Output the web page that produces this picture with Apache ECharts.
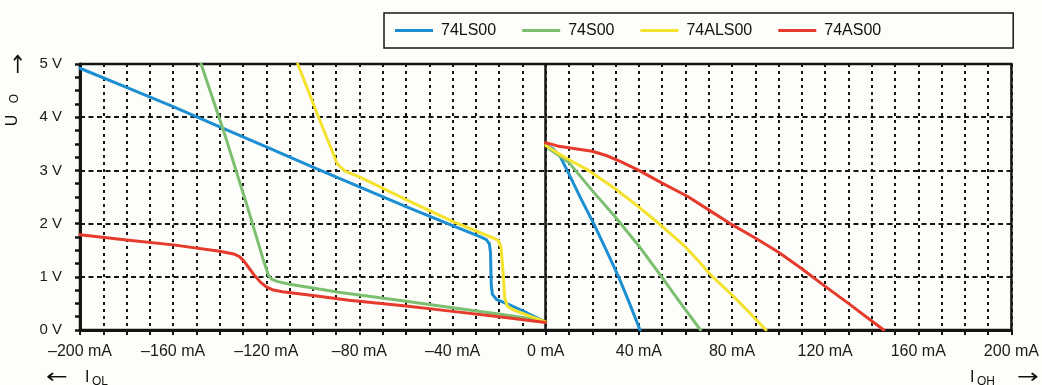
<!DOCTYPE html>
<html>
<head>
<meta charset="utf-8">
<title>TTL output characteristics</title>
<script src="https://cdn.jsdelivr.net/npm/echarts@6/dist/echarts.min.js"></script>
<style>
  html, body { margin: 0; padding: 0; background: #fdfdf9; }
  #chart { width: 1042px; height: 385px; }
</style>
</head>
<body>
<div id="chart"></div>
<script>
// Output voltage U_O [V] versus output current [mA] for four TTL NAND families.
// Negative currents: sink branch (I_OL), positive currents: source branch (I_OH).

const seriesNames = ['74LS00', '74S00', '74ALS00', '74AS00'];
const seriesColors = ['#1b8fd2', '#7cbf70', '#f5e22e', '#e53a2c'];

const xTickLabels = ['–200 mA', '–160 mA', '–120 mA', '–80 mA', '–40 mA', '0 mA',
                     '40 mA', '80 mA', '120 mA', '160 mA', '200 mA'];
const yTickLabels = ['0 V', '1 V', '2 V', '3 V', '4 V', '5 V'];

// [current mA, voltage V]
const ls00Sink = [[-200, 4.92], [-180, 4.56], [-160, 4.2], [-140, 3.82], [-120, 3.44],
  [-100, 3.06], [-80, 2.69], [-60, 2.32], [-40, 1.96], [-28, 1.75], [-25.5, 1.70],
  [-24.2, 1.62], [-23.7, 1.45], [-23.4, 0.85], [-22.9, 0.67], [-21, 0.57], [-16, 0.48],
  [-8, 0.32], [0, 0.15]];
const ls00Source = [[0, 3.47], [3, 3.41], [6, 3.28], [10, 2.93], [15, 2.48], [20.6, 2.0],
  [26, 1.5], [31.3, 1.0], [36, 0.5], [40.5, 0]];

const s00Sink = [[-148, 5.0], [-138, 3.7], [-128, 2.3], [-121.5, 1.35], [-119, 1.02],
  [-117.5, 0.95], [-115, 0.91], [-110, 0.86], [-100, 0.79], [-89, 0.71], [-60, 0.54],
  [-40, 0.42], [-20, 0.3], [0, 0.17]];
const s00Source = [[0, 3.45], [5, 3.3], [9.7, 3.16], [20, 2.62], [29.8, 2.13], [40, 1.58],
  [49.8, 1.0], [58, 0.5], [66.5, 0]];

const als00Sink = [[-106.5, 5.0], [-98, 4.05], [-89.5, 3.12], [-86, 2.98], [-80, 2.88],
  [-60, 2.45], [-40, 2.04], [-22, 1.72], [-20.3, 1.68], [-19.2, 1.55], [-18.5, 1.2],
  [-17.6, 0.6], [-16.5, 0.45], [-14.5, 0.39], [-8, 0.28], [0, 0.15]];
const als00Source = [[0, 3.47], [5, 3.33], [10, 3.2], [18.4, 3.0], [30, 2.65], [39.8, 2.32],
  [50, 1.95], [59.8, 1.57], [66, 1.28], [71.2, 1.02], [80, 0.66], [87, 0.35], [94.6, 0]];

const as00Sink = [[-200, 1.79], [-180, 1.69], [-160, 1.6], [-140, 1.48], [-134, 1.43],
  [-131.5, 1.38], [-129.5, 1.29], [-127.5, 1.17], [-125.5, 1.05], [-122.5, 0.9], [-120, 0.81],
  [-117, 0.75], [-113, 0.72], [-100, 0.65], [-84.5, 0.56], [-60, 0.45], [-40, 0.35],
  [-20, 0.25], [0, 0.14]];
const as00Source = [[0, 3.52], [5, 3.46], [12, 3.41], [20, 3.36], [26, 3.28], [32, 3.17],
  [40, 3.0], [50, 2.76], [61, 2.51], [71, 2.23], [80, 1.98], [90, 1.73], [100, 1.46],
  [110, 1.15], [120, 0.82], [130, 0.5], [140, 0.17], [145.2, 0]];

const branches = [
  [ls00Sink, ls00Source],
  [s00Sink, s00Source],
  [als00Sink, als00Source],
  [as00Sink, as00Source]
];

const X_MIN = -200, X_MAX = 200, X_STEP = 40;
const FONT = '"Liberation Sans", Arial, Helvetica, sans-serif';
const ARROW_FONT = '"DejaVu Sans", sans-serif';
const INK = '#151515';

const series = [];
branches.forEach((pair, i) => {
  pair.forEach((data, j) => {
    const s = {
      name: seriesNames[i],
      type: 'line',
      data: data,
      symbol: 'none',
      showSymbol: false,
      color: seriesColors[i],
      lineStyle: { width: 3, color: seriesColors[i], join: 'round', cap: 'round' },
      z: 3 + i
    };
    if (i === 0 && j === 0) {
      // solid vertical line at zero current separating sink and source
      s.markLine = {
        silent: true,
        symbol: 'none',
        label: { show: false },
        lineStyle: { type: 'solid', color: INK, width: 2.5 },
        data: [{ xAxis: 0 }]
      };
    }
    series.push(s);
  });
});

const chart = echarts.init(document.getElementById('chart'), null, { renderer: 'canvas' });

const dotted = { type: [3, 4], color: INK, width: 2 };

chart.setOption({
  animation: false,
  backgroundColor: '#fdfdf9',
  textStyle: { fontFamily: FONT },
  grid: {
    left: 80, right: 29, top: 64, bottom: 55,
    show: true, borderColor: INK, borderWidth: 2.5, backgroundColor: 'transparent'
  },
  legend: {
    data: seriesNames,
    left: 384, top: 13,
    orient: 'horizontal',
    icon: 'rect',
    itemWidth: 38, itemHeight: 3, itemGap: 26,
    padding: [9, 132, 9, 11],
    borderColor: INK, borderWidth: 1.5,
    textStyle: { fontFamily: FONT, fontSize: 16, color: '#111', padding: [0, 0, 0, 3], lineHeight: 17 },
    selectedMode: false
  },
  xAxis: {
    type: 'value',
    min: X_MIN, max: X_MAX, interval: X_STEP,
    axisLine: { show: true, onZero: false, lineStyle: { color: INK, width: 3 } },
    axisTick: { show: true, length: 5, lineStyle: { color: INK, width: 2 } },
    minorTick: { show: true, splitNumber: 4, length: 5, lineStyle: { color: INK, width: 2 } },
    splitLine: { show: true, lineStyle: dotted },
    minorSplitLine: { show: true, lineStyle: dotted },
    axisLabel: {
      fontFamily: FONT, fontSize: 16, color: '#1a1a1a', margin: 14,
      showMinLabel: true, showMaxLabel: true,
      formatter: v => xTickLabels[Math.round((v - X_MIN) / X_STEP)]
    }
  },
  yAxis: {
    type: 'value',
    min: 0, max: 5, interval: 1,
    axisLine: { show: true, onZero: false, lineStyle: { color: INK, width: 3 } },
    axisTick: { show: true, length: 5, lineStyle: { color: INK, width: 2.5 } },
    minorTick: { show: true, splitNumber: 4, length: 5, lineStyle: { color: INK, width: 2.5 } },
    splitLine: { show: true, lineStyle: { type: [5, 3.5], color: INK, width: 2 } },
    axisLabel: {
      fontFamily: FONT, fontSize: 15, color: '#1a1a1a', margin: 18,
      formatter: v => yTickLabels[Math.round(v)]
    }
  },
  graphic: [
    // vertical axis title U_O with arrow
    { type: 'text', x: 13, y: 120.5, rotation: Math.PI / 2,
      style: { text: 'U', font: '16px ' + FONT, fill: '#111', align: 'center', verticalAlign: 'middle' } },
    { type: 'text', x: 14.5, y: 98.5, rotation: Math.PI / 2,
      style: { text: 'O', font: '12px ' + FONT, fill: '#111', align: 'center', verticalAlign: 'middle' } },
    { type: 'text', x: 18, y: 66, scaleY: 1.25,
      style: { text: '↑', font: '20px ' + ARROW_FONT, fill: '#111', align: 'center', verticalAlign: 'middle' } },
    // sink current label
    { type: 'text', x: 57, y: 378, scaleX: 1.3,
      style: { text: '←', font: '20px ' + ARROW_FONT, fill: '#111', align: 'center', verticalAlign: 'middle' } },
    { type: 'text', x: 85, y: 378,
      style: { text: 'I', font: '16px ' + FONT, fill: '#111', align: 'left', verticalAlign: 'middle' } },
    { type: 'text', x: 92, y: 382,
      style: { text: 'OL', font: '12px ' + FONT, fill: '#111', align: 'left', verticalAlign: 'middle' } },
    // source current label
    { type: 'text', x: 970, y: 378,
      style: { text: 'I', font: '16px ' + FONT, fill: '#111', align: 'left', verticalAlign: 'middle' } },
    { type: 'text', x: 977, y: 382,
      style: { text: 'OH', font: '12px ' + FONT, fill: '#111', align: 'left', verticalAlign: 'middle' } },
    { type: 'text', x: 1028, y: 378, scaleX: 1.3,
      style: { text: '→', font: '20px ' + ARROW_FONT, fill: '#111', align: 'center', verticalAlign: 'middle' } }
  ],
  series: series
});
</script>
</body>
</html>
